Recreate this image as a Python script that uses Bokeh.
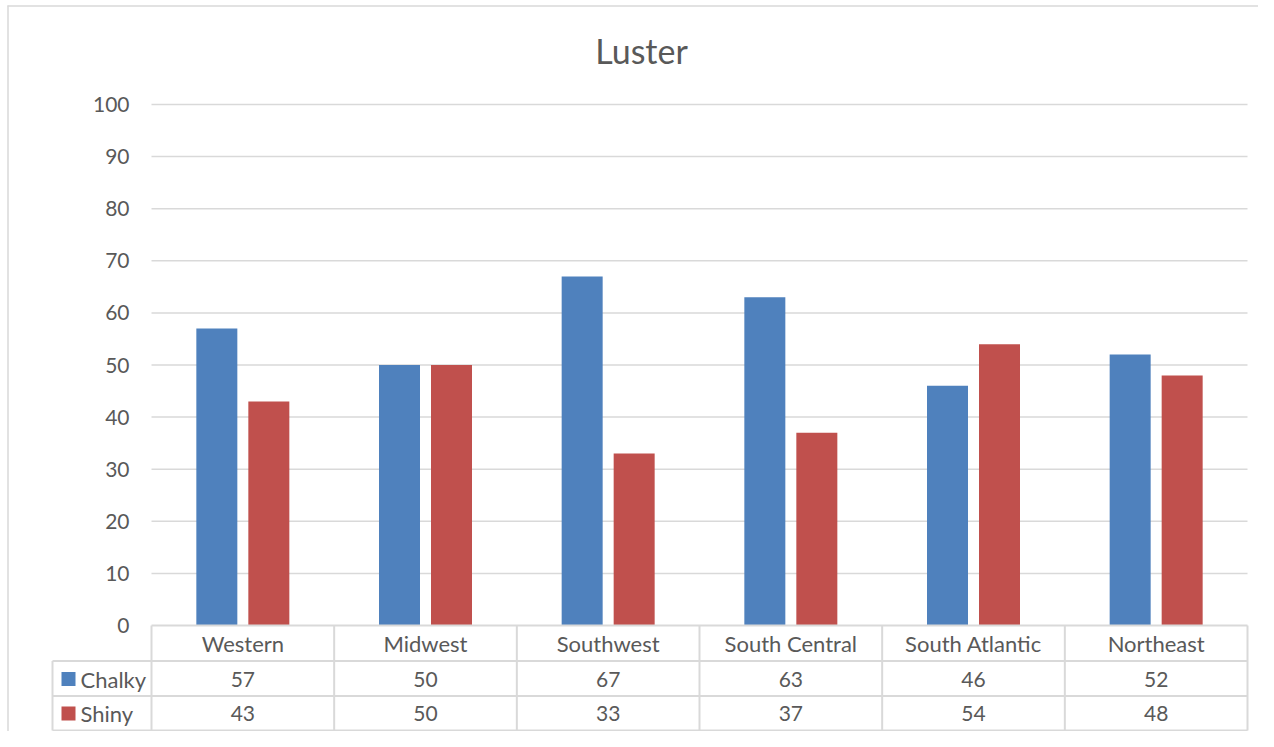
from bokeh.plotting import figure
from bokeh.models import ColumnDataSource, Range1d
from bokeh.transform import dodge
from bokeh.core.properties import value
from bokeh.embed import file_html
from bokeh.resources import INLINE

# ---- data ----
title_text = "Luster"
categories = ["Western", "Midwest", "Southwest", "South Central", "South Atlantic", "Northeast"]
series_names = ["Chalky", "Shiny"]
chalky = [57, 50, 67, 63, 46, 52]
shiny = [43, 50, 33, 37, 54, 48]
y_ticks = [0, 10, 20, 30, 40, 50, 60, 70, 80, 90, 100]

# ---- style ----
BLUE = "#4F81BD"
RED = "#C0504D"
GRID = "#D9D9D9"
TEXT = "#595959"
FONT = value("Lato")

W, H = 1258, 731
# layout helpers (pixel -> data coordinates), used only for placement
U = 1096 / 6.0      # px per category
V = 5.21            # px per value unit
def sx(px):
    return (px - 151) / U
def sy(py):
    return (625 - py) / V

p = figure(width=W, height=H, output_backend="svg", toolbar_location=None,
           x_axis_location=None, y_axis_location=None,
           x_range=Range1d(sx(0), sx(W)), y_range=Range1d(sy(H), sy(0)),
           min_border=0, outline_line_color=None)
p.xgrid.visible = False
p.ygrid.visible = False
p.background_fill_color = "white"
p.border_fill_color = "white"

n = len(categories)
pos = [i + 0.5 for i in range(n)]
src = ColumnDataSource(dict(x=pos, cat=categories, chalky=chalky, shiny=shiny,
                            chalky_s=[str(v) for v in chalky],
                            shiny_s=[str(v) for v in shiny]))

# outer chart border (left & top)
p.segment(x0=[sx(7.5), sx(7)], y0=[sy(5), sy(5.5)], x1=[sx(7.5), sx(W)], y1=[sy(H), sy(5.5)],
          line_color=GRID, line_width=1.5)

# gridlines
gt = [t for t in y_ticks if t > 0]
p.segment(x0=[0] * len(gt), y0=gt, x1=[n] * len(gt), y1=gt, line_color=GRID, line_width=1.5)

# y tick labels
p.text(x=[sx(129)] * len(y_ticks), y=y_ticks, text=[str(t) for t in y_ticks],
       text_align="right", text_baseline="middle", text_font=FONT,
       text_font_size="21px", text_color=TEXT)

# bars
bw = 41 / U
off = 26 / U
p.vbar(x=dodge("x", -off), top="chalky", width=bw, bottom=0, source=src,
       fill_color=BLUE, line_color=None)
p.vbar(x=dodge("x", off), top="shiny", width=bw, bottom=0, source=src,
       fill_color=RED, line_color=None)

# data table lines
r1, r2, r3 = sy(660.5), sy(695.5), sy(730)
xl = sx(52)
hx0 = [0, xl, xl, xl]
hy = [0, r1, r2, r3]
hx1 = [n] * 4
p.segment(x0=hx0, y0=hy, x1=hx1, y1=hy, line_color=GRID, line_width=2)
vx = list(range(n + 1))
p.segment(x0=vx, y0=[0] * len(vx), x1=vx, y1=[r3] * len(vx), line_color=GRID, line_width=2)
p.segment(x0=[xl], y0=[r1], x1=[xl], y1=[r3], line_color=GRID, line_width=2)

# table text
row_hdr, row1, row2 = sy(642.5), sy(678.5), sy(713)
p.text(x="x", y=row_hdr, text="cat", source=src, text_align="center", text_baseline="middle",
       text_font=FONT, text_font_size="22px", text_color=TEXT)
p.text(x="x", y=row1, text="chalky_s", source=src, text_align="center", text_baseline="middle",
       text_font=FONT, text_font_size="21px", text_color=TEXT)
p.text(x="x", y=row2, text="shiny_s", source=src, text_align="center", text_baseline="middle",
       text_font=FONT, text_font_size="21px", text_color=TEXT)

# legend keys in table
ly = [row1, row2]
p.rect(x=[sx(68)] * 2, y=ly, width=14, height=14, width_units="screen", height_units="screen",
       fill_color=[BLUE, RED], line_color=None)
p.text(x=[sx(80)] * 2, y=ly, text=series_names, text_align="left", text_baseline="middle",
       text_font=FONT, text_font_size="22px", text_color=TEXT)

# title
p.text(x=[sx(641)], y=[sy(49.5)], text=[title_text], text_align="center", text_baseline="middle",
       text_font=FONT, text_font_size="34px", text_color=TEXT)

open("out.html", "w").write(file_html(p, INLINE))
